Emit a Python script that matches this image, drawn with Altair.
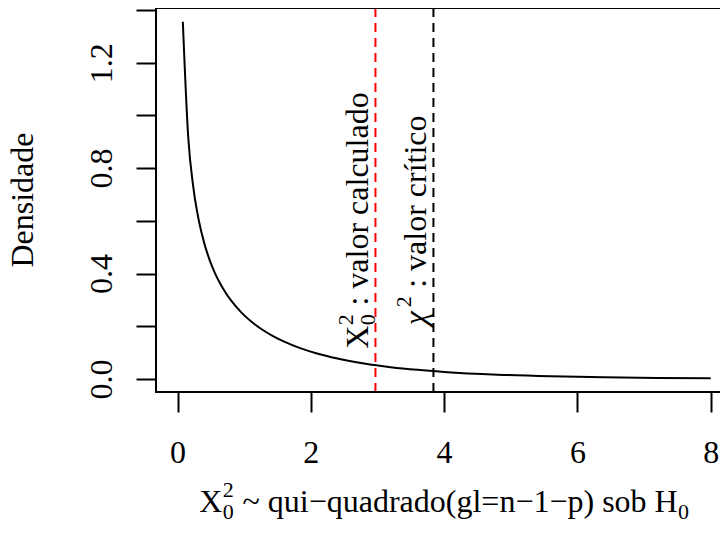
import altair as alt
import pandas as pd

# ---- data (chi-square density curve, 1 df) ----
x_vals = [0.08, 0.16, 0.24, 0.32, 0.40, 0.48, 0.56, 0.64, 0.72, 0.80,
          0.96, 1.12, 1.28, 1.44, 1.60, 1.84, 2.08, 2.40, 2.80, 3.20,
          3.60, 4.00, 4.80, 5.60, 6.40, 7.20, 8.00]
dens_vals = [1.3552, 0.9207, 0.7223, 0.6010, 0.5164, 0.4530, 0.4029, 0.3621, 0.3280, 0.2990,
             0.2519, 0.2153, 0.1859, 0.1618, 0.1417, 0.1172, 0.0978, 0.0776, 0.0588, 0.0450,
             0.0348, 0.0270, 0.0165, 0.0103, 0.0064, 0.0041, 0.0026]

x_ticks = [0, 2, 4, 6, 8]
y_ticks = [0.0, 0.2, 0.4, 0.6, 0.8, 1.0, 1.2, 1.4]
y_labels = ["0.0", "0.4", "0.8", "1.2"]

calc_value = 2.97      # valor calculado (red line)
crit_value = 3.84      # valor critico (black line)
label_y = 0.6          # vertical centre of the rotated annotations

FONT = "Liberation Serif"
FS = 32
SS = 22

W, H = 564, 384
x_dom = [-0.3226, 8.1395]
y_dom = [-0.0493, 1.4074]

xs = alt.Scale(domain=x_dom, nice=False, zero=False)
ys = alt.Scale(domain=y_dom, nice=False, zero=False)

lab_list = ",".join("'%s'" % s for s in y_labels)
xaxis = alt.Axis(values=x_ticks, title=None, grid=False, domain=False,
                 tickSize=20, tickWidth=2, tickColor="black",
                 labelFont=FONT, labelFontSize=FS, labelColor="black",
                 labelBaseline="alphabetic", labelPadding=50,
                 labelFlush=False, labelOverlap=False)
yaxis = alt.Axis(values=y_ticks, title=None, grid=False, domain=False,
                 tickSize=20, tickWidth=2, tickColor="black",
                 labelFont=FONT, labelFontSize=FS, labelColor="black",
                 labelAngle=270, labelAlign="center", labelBaseline="alphabetic",
                 labelPadding=25, labelFlush=False, labelOverlap=False,
                 labelExpr="indexof([%s], format(datum.value, '.1f')) >= 0 ? format(datum.value, '.1f') : ''" % lab_list)

X = alt.X("x:Q", scale=xs, axis=xaxis)
Y = alt.Y("y:Q", scale=ys, axis=yaxis)

df = pd.DataFrame({"x": x_vals, "y": dens_vals})
curve = alt.Chart(df).mark_line(color="black", strokeWidth=2, interpolate="monotone").encode(x=X, y=Y)

red_line = alt.Chart(pd.DataFrame({"x": [calc_value]})).mark_rule(
    color="#FF0000", strokeWidth=2, strokeDash=[9, 6]).encode(x=X)
black_line = alt.Chart(pd.DataFrame({"x": [crit_value]})).mark_rule(
    color="black", strokeWidth=2, strokeDash=[9, 6]).encode(x=X)

# frame (left, top, bottom)
frame_left = alt.Chart(pd.DataFrame({"a": [0]})).mark_rule(color="black", strokeWidth=2).encode(
    x=alt.value(0), y=alt.value(-1), y2=alt.value(H + 1))
frame_top = alt.Chart(pd.DataFrame({"a": [0]})).mark_rule(color="black", strokeWidth=2).encode(
    x=alt.value(0), x2=alt.value(W), y=alt.value(0))
frame_bot = alt.Chart(pd.DataFrame({"a": [0]})).mark_rule(color="black", strokeWidth=2).encode(
    x=alt.value(0), x2=alt.value(W), y=alt.value(H))


def rot_piece(xv, yv, text, dx, dy, size, style="normal"):
    return alt.Chart(pd.DataFrame({"x": [xv], "y": [yv]})).mark_text(
        text=text, dx=dx, dy=dy, fontSize=size, angle=270, align="left",
        baseline="alphabetic", font=FONT, fontStyle=style, color="black").encode(x=X, y=Y)


def px_piece(px, py, text, size, align="left", angle=0):
    return alt.Chart(pd.DataFrame({"a": [0]})).mark_text(
        text=text, fontSize=size, angle=angle, align=align,
        baseline="alphabetic", font=FONT, color="black").encode(
        x=alt.value(px), y=alt.value(py))


# red annotation: X_0^2 : valor calculado
b = -7
s0 = -128
red_ann = [
    rot_piece(calc_value, label_y, "X", s0, b, FS),
    rot_piece(calc_value, label_y, "0", s0 + 23.6, b + 7, SS),
    rot_piece(calc_value, label_y, "2", s0 + 23.6, b - 15, SS),
    rot_piece(calc_value, label_y, ": valor calculado", s0 + 43.3, b, FS),
]
# black annotation: chi^2 : valor critico
s1 = -104.5
crit_ann = [
    rot_piece(crit_value, label_y, "χ", s1, b, FS, style="italic"),
    rot_piece(crit_value, label_y, "2", s1 + 18, b - 15, SS),
    rot_piece(crit_value, label_y, ": valor crítico", s1 + 37.5, b, FS),
]

# axis titles
ty = 504
tx = 43.2
xtitle = [
    px_piece(tx, ty, "X", FS),
    px_piece(tx + 23.6, ty + 7, "0", SS),
    px_piece(tx + 23.6, ty - 15, "2", SS),
    px_piece(tx + 43.3, ty, "~ qui−quadrado(gl=n−1−p) sob", FS),
    px_piece(tx + 455.3, ty, "H", FS),
    px_piece(tx + 478.9, ty + 7, "0", SS),
]
ytitle = px_piece(-123, H / 2, "Densidade", FS, align="center", angle=270)

chart = alt.layer(
    curve, red_line, black_line, frame_left, frame_top, frame_bot,
    *red_ann, *crit_ann, *xtitle, ytitle
).properties(
    width=W, height=H,
    padding={"left": 148, "top": 0, "right": 0, "bottom": 136},
    autosize=alt.AutoSizeParams(type="none"),
).configure_view(stroke=None)

chart.save("out.html", embed_options={"renderer": "svg", "actions": False})
